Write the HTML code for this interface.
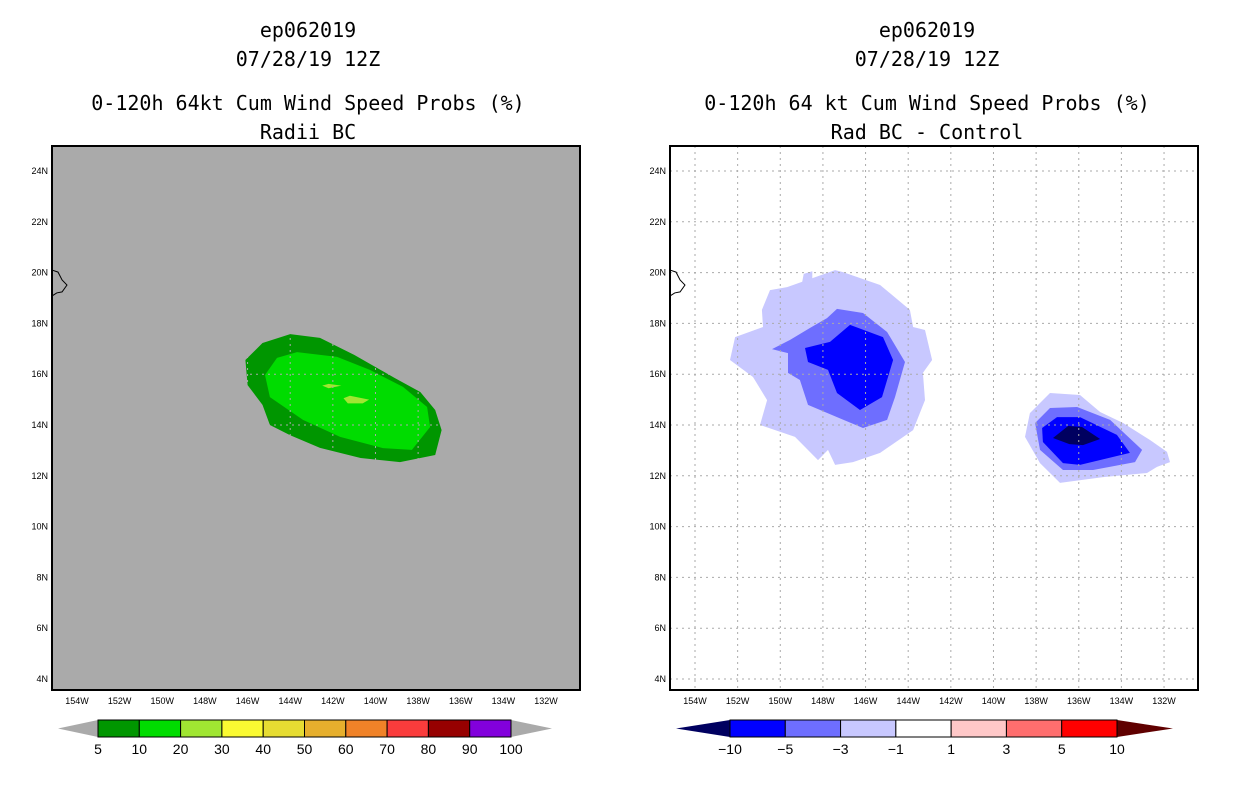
<!DOCTYPE html>
<html><head><meta charset="utf-8"><style>
body{margin:0;background:#fff;width:1236px;height:800px;overflow:hidden}
svg{font-family:"Liberation Sans",sans-serif}
.t{font-family:"DejaVu Sans Mono","Liberation Mono",monospace;font-size:20px;text-anchor:middle}
.tk{font-size:9px;fill:#000}
.cb{font-size:14px;text-anchor:middle}
</style></head><body>
<svg id="chart" width="1236" height="800" xmlns="http://www.w3.org/2000/svg"></svg>
<script>
const lonTicks=[-154,-152,-150,-148,-146,-144,-142,-140,-138,-136,-134,-132];
const latTicks=[24,22,20,18,16,14,12,10,8,6,4];
const leftLevels=["5","10","20","30","40","50","60","70","80","90","100"];
const leftColors=["#009600","#00dc00","#a0e632","#fafa32","#e6dc32","#e6af2d","#f08228","#fa3c3c","#960000","#8200dc"];
const rightLevels=["−10","−5","−3","−1","1","3","5","10"];
const rightColors=["#0000ff","#6e6eff","#c8c8ff","#ffffff","#ffc8c8","#ff6e6e","#ff0000"];
const coast=[[-155.17,20.1],[-154.89,20.02],[-154.7,19.71],[-154.47,19.51],[-154.7,19.24],[-154.95,19.2],[-155.17,19.08]];
const left10=[[-146.1,16.56],[-145.3,17.23],[-144.0,17.58],[-142.6,17.43],[-141.0,16.76],[-139.1,15.85],[-137.9,15.3],[-137.2,14.59],[-136.9,13.8],[-137.2,12.82],[-138.85,12.54],[-140.7,12.7],[-142.6,13.1],[-144.0,13.6],[-144.95,14.0],[-145.3,14.79],[-146.0,15.57]];
const left20=[[-145.18,15.97],[-144.62,16.64],[-143.68,16.87],[-141.8,16.68],[-140.26,16.17],[-138.71,15.5],[-137.58,14.71],[-137.44,13.92],[-138.29,13.02],[-139.65,13.09],[-141.66,13.53],[-143.4,14.2],[-144.95,15.1]];
const left30a=[[-142.5,15.55],[-142.2,15.62],[-141.6,15.55],[-142.2,15.45]];
const left30b=[[-141.5,15.05],[-141.2,15.15],[-140.3,15.0],[-140.6,14.85],[-141.3,14.85]];
const r3a=[[-152.36,16.56],[-152.12,17.46],[-150.81,17.86],[-150.86,18.53],[-150.48,19.31],[-149.68,19.43],[-147.43,20.1],[-147.06,20.02],[-145.32,19.51],[-143.92,18.53],[-143.77,17.86],[-143.21,17.74],[-142.88,16.56],[-143.31,16.05],[-143.21,14.98],[-143.77,13.8],[-145.32,12.9],[-146.59,12.54],[-147.43,12.43],[-147.76,13.02],[-148.23,12.62],[-149.31,13.53],[-150.95,14.0],[-150.62,14.98],[-151.28,15.89]];
const r3b=[[-149.0,19.5],[-148.9,19.95],[-148.5,20.05],[-148.5,19.6]];
const r5a=[[-150.39,16.99],[-149.54,17.35],[-148.61,17.82],[-147.81,18.21],[-147.34,18.57],[-146.12,18.41],[-144.99,17.66],[-144.15,16.48],[-144.62,15.1],[-144.99,14.2],[-146.12,13.88],[-147.34,14.31],[-148.7,14.79],[-149.08,15.77],[-149.64,16.05],[-149.64,16.83]];
const r10a=[[-148.84,17.03],[-147.67,17.27],[-146.73,17.94],[-145.18,17.46],[-144.71,16.56],[-145.23,15.1],[-146.26,14.59],[-147.34,15.26],[-147.76,16.17],[-148.7,16.48]];
const r3c=[[-138.52,13.53],[-138.29,14.47],[-137.35,15.26],[-135.94,15.18],[-135.0,14.51],[-133.92,14.08],[-132.66,13.41],[-131.86,12.94],[-131.72,12.54],[-132.33,12.35],[-132.8,12.11],[-134.86,11.95],[-136.88,11.72],[-137.82,12.5]];
const r5c=[[-138.05,14.08],[-137.35,14.67],[-136.08,14.71],[-134.53,14.2],[-133.03,13.02],[-133.36,12.54],[-135.33,12.23],[-136.74,12.23],[-137.82,13.02]];
const r10c=[[-137.72,13.88],[-137.02,14.31],[-135.94,14.31],[-134.21,13.61],[-133.6,12.9],[-135.94,12.43],[-136.74,12.5],[-137.68,13.33]];
const rNavy=[[-137.21,13.49],[-136.5,13.96],[-135.85,13.92],[-135.0,13.45],[-135.8,13.21],[-136.44,13.25]];

const svg=document.getElementById('chart');
const NS="http://www.w3.org/2000/svg";
function mk(tag,attrs,parent){const e=document.createElementNS(NS,tag);for(const k in attrs)e.setAttribute(k,attrs[k]);(parent||svg).appendChild(e);return e;}
function panel(ox,name){
  const X=lon=>ox+77+(lon+154)*21.32;
  const Y=lat=>171+(24-lat)*25.4;
  const g=mk('g',{});
  
  
  return {g,X,Y,ox};
}
function poly(p,pts,fill,name){
  const e=mk('polygon',{points:pts.map(q=>p.X(q[0]).toFixed(1)+','+p.Y(q[1]).toFixed(1)).join(' '),fill:fill},p.g);
  
  
}
function axes(p,bg,gridColor){
  const x0=p.ox+52,x1=p.ox+580;
  const r=mk('rect',{x:x0,y:146,width:528,height:544,fill:bg},p.g);
  
  
  return ()=>{
    lonTicks.forEach(l=>{mk('line',{x1:p.X(l),x2:p.X(l),y1:146,y2:690,stroke:gridColor,'stroke-width':1,'stroke-dasharray':'2,4'},p.g);
      const t=mk('text',{x:p.X(l),y:704,class:'tk','text-anchor':'middle'},p.g);t.textContent=(-l)+'W';
      
      });
    latTicks.forEach(l=>{mk('line',{x1:x0,x2:x1,y1:p.Y(l),y2:p.Y(l),stroke:gridColor,'stroke-width':1,'stroke-dasharray':'2,4'},p.g);
      const t=mk('text',{x:x0-4,y:p.Y(l)+3,class:'tk','text-anchor':'end'},p.g);t.textContent=l+'N';
      
      });
    const cl=mk('polyline',{points:coast.map(q=>p.X(q[0])+','+p.Y(q[1])).join(' '),fill:'none',stroke:'#000','stroke-width':1},p.g);
    
    
    mk('rect',{x:x0,y:146,width:528,height:544,fill:'none',stroke:'#000','stroke-width':2},p.g);
  };
}
function title(cx,lines){
  const ys=[37,66,110,139];
  lines.forEach((s,i)=>{const t=mk('text',{x:cx,y:ys[i],class:'t'});t.textContent=s;
    
    });
}
function colorbar(x0,x1,tipL,tipR,colors,labels,cL,cR,name){
  const g=mk('g',{});
  
  
  const w=(x1-x0)/colors.length, y0=720,y1=737,ym=728.5;
  mk('polygon',{points:`${tipL},${ym} ${x0},${y0} ${x0},${y1}`,fill:cL},g);
  mk('polygon',{points:`${tipR},${ym} ${x1},${y0} ${x1},${y1}`,fill:cR},g);
  colors.forEach((c,i)=>mk('rect',{x:x0+i*w,y:y0,width:w,height:y1-y0,fill:c,stroke:'#000','stroke-width':1},g));
  labels.forEach((s,i)=>{const t=mk('text',{x:x0+i*w,y:754,class:'cb'},g);t.textContent=s;});
}
// left panel
const L=panel(0,'left-panel');
const finL=axes(L,'#aaaaaa','#aaaaaa');
poly(L,left10,'#009600','contour-5-10');
poly(L,left20,'#00dc00','contour-10-20');
poly(L,left30a,'#a0e632','contour-20-30');
poly(L,left30b,'#a0e632','contour-20-30');
finL();
title(308,['ep062019','07/28/19 12Z','0-120h 64kt Cum Wind Speed Probs (%)','Radii BC']);
colorbar(98,511,58,552,leftColors,leftLevels,'#aaaaaa','#aaaaaa','left-colorbar');
// right panel
const R=panel(618,'right-panel');
const finR=axes(R,'#ffffff','#aaaaaa');
poly(R,r3a,'#c8c8ff','diff-minus3');
poly(R,r3b,'#c8c8ff','diff-minus3');
poly(R,r3c,'#c8c8ff','diff-minus3');
poly(R,r5a,'#6e6eff','diff-minus5');
poly(R,r5c,'#6e6eff','diff-minus5');
poly(R,r10a,'#0000ff','diff-minus10');
poly(R,r10c,'#0000ff','diff-minus10');
poly(R,rNavy,'#000060','diff-below-minus10');
finR();
title(927,['ep062019','07/28/19 12Z','0-120h 64 kt Cum Wind Speed Probs (%)','Rad BC - Control']);
colorbar(730,1117,676,1173,rightColors,rightLevels,'#000060','#600000','right-colorbar');
</script>
</body></html>
